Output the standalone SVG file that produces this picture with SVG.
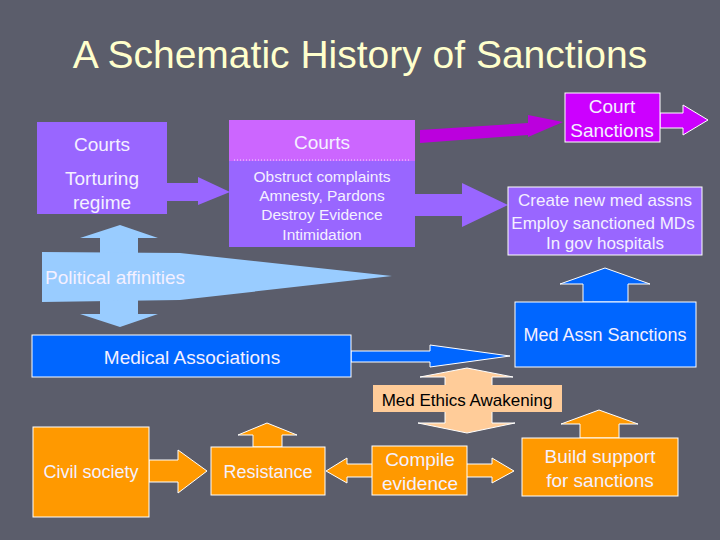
<svg xmlns="http://www.w3.org/2000/svg" width="720" height="540" viewBox="0 0 720 540">
<style>
text{font-family:"Liberation Sans",Arial,sans-serif;fill:#f4f0ff;text-anchor:middle}
.title{font-size:39px;fill:#ffffcc}
.t19{font-size:19px}
.t18{font-size:18px}
.t17{font-size:17px}
.t15{font-size:15.5px}
.purple{fill:#9966ff}
.wl{stroke:#ffffff;stroke-width:1}
.orange{fill:#ff9900;stroke:#ffffff;stroke-width:1}
.blue{fill:#0066ff;stroke:#ffffff;stroke-width:1}
.lblue{fill:#99ccff}
</style>
<rect width="720" height="540" fill="#5b5d6b"/>
<text class="title" x="360" y="68">A Schematic History of Sanctions</text>

<g id="connectors">
  <polygon class="purple" points="167,183 198,183 198,177 230,192 198,205 198,201 167,201"/>
  <polygon fill="#bb00dd" points="420,130 528,123 528,115 563,122 528,137 528,135 420,143"/>
  <polygon class="purple" points="414,194 462,194 462,183 508,205 462,227 462,216 414,216"/>
  <polygon fill="#cc00ff" class="wl" points="660,113 683,113 683,105 708,120 683,135 683,128 660,128"/>
  <polygon class="lblue" points="120,225 158,238 138,238 138,314 158,314 120,327 80,314 100,314 100,238 80,238"/>
  <polygon class="blue" points="351,351 430,351 430,345 510,356 430,367 430,362 351,362"/>
  <polygon class="blue" points="583,302 583,284 560,284 605,268 650,284 628,284 628,302"/>
  <polygon fill="#ffcc99" class="wl" points="467,368 513,377 492,377 492,423 515,423 467,433 418,423 445,423 445,377 420,377"/>
  <polygon class="orange" points="149,460 178,460 178,450 207,471 178,493 178,482 149,482"/>
  <polygon class="orange" points="253,447 253,435 238,435 267,423 297,435 282,435 282,447"/>
  <polygon class="orange" points="326,471 347,458 347,464 492,464 492,458 514,471 492,483 492,477 347,477 347,483"/>
  <polygon class="orange" points="580,438 580,424 561,424 599,410 638,424 619,424 619,438"/>
</g>

<g id="torturing-regime">
  <rect class="purple" x="37" y="122" width="130" height="92"/>
  <text class="t19" x="102" y="151">Courts</text>
  <text class="t19" x="102" y="185">Torturing</text>
  <text class="t19" x="102" y="209">regime</text>
</g>

<g id="courts">
  <rect class="purple" x="229" y="120" width="186" height="127"/>
  <rect fill="#cc66ff" x="229" y="120" width="186" height="41"/>
  <line x1="234" y1="160" x2="409" y2="160" stroke="#eeddff" stroke-width="1" stroke-dasharray="1 2"/>
  <text class="t19" x="322" y="149">Courts</text>
  <text class="t15" x="322" y="182">Obstruct complaints</text>
  <text class="t15" x="322" y="201">Amnesty, Pardons</text>
  <text class="t15" x="322" y="220">Destroy Evidence</text>
  <text class="t15" x="322" y="240">Intimidation</text>
</g>

<g id="court-sanctions">
  <rect fill="#cc00ff" class="wl" x="565" y="93" width="95" height="49"/>
  <text class="t19" x="612" y="113">Court</text>
  <text class="t19" x="612" y="137">Sanctions</text>
</g>

<g id="create-new">
  <rect class="purple wl" x="508" y="187" width="194" height="68"/>
  <text class="t17" x="605" y="206">Create new med assns</text>
  <text class="t17" x="603" y="229">Employ sanctioned MDs</text>
  <text class="t17" x="605" y="249">In gov hospitals</text>
</g>

<g id="political-affinities">
  <polygon class="lblue" points="42,252 180,253 392,276 180,300 42,302"/>
  <text class="t19" x="45" y="284" style="text-anchor:start">Political affinities</text>
</g>

<g id="medical-associations">
  <rect class="blue" x="32" y="335" width="319" height="42"/>
  <text class="t19" x="192" y="364">Medical Associations</text>
</g>

<g id="med-assn-sanctions">
  <rect class="blue" x="515" y="302" width="181" height="65"/>
  <text class="t18" x="605" y="341">Med Assn Sanctions</text>
</g>

<g id="med-ethics">
  <rect fill="#ffcc99" x="373" y="385" width="189" height="27"/>
  <text class="t17" x="467" y="406" style="fill:#000000">Med Ethics Awakening</text>
</g>

<g id="civil-society">
  <rect class="orange" x="33" y="427" width="116" height="90"/>
  <text class="t18" x="91" y="478">Civil society</text>
</g>

<g id="resistance">
  <rect class="orange" x="211" y="447" width="114" height="48"/>
  <text class="t18" x="268" y="478">Resistance</text>
</g>

<g id="compile-evidence">
  <rect class="orange" x="372" y="446" width="95" height="49"/>
  <text class="t19" x="420" y="466">Compile</text>
  <text class="t19" x="420" y="490">evidence</text>
</g>

<g id="build-support">
  <rect class="orange" x="522" y="438" width="156" height="58"/>
  <text class="t19" x="600" y="463">Build support</text>
  <text class="t19" x="600" y="487">for sanctions</text>
</g>
</svg>
